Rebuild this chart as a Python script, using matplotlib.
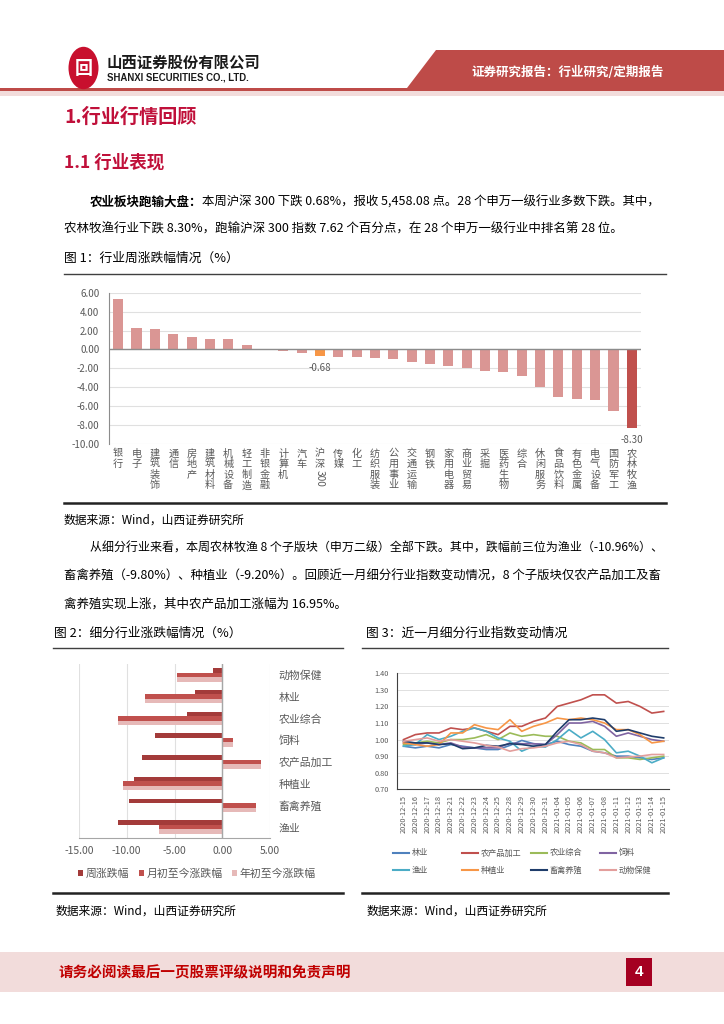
import re
import matplotlib
matplotlib.use('Agg')
import matplotlib.pyplot as plt
import numpy as np
from matplotlib.patches import Polygon, Rectangle, Circle
from matplotlib.lines import Line2D
from matplotlib.ticker import FormatStrFormatter
from matplotlib.transforms import blended_transform_factory

plt.rcParams['font.family'] = ['Noto Sans CJK SC', 'DejaVu Sans']
plt.rcParams['axes.unicode_minus'] = False

# ---- data: figure 1, weekly change of SW level-1 industries (%)
industries = ['银行', '电子', '建筑装饰', '通信', '房地产', '建筑材料', '机械设备', '轻工制造',
              '非银金融', '计算机', '汽车', '沪深300', '传媒', '化工', '纺织服装', '公用事业',
              '交通运输', '钢铁', '家用电器', '商业贸易', '采掘', '医药生物', '综合', '休闲服务',
              '食品饮料', '有色金属', '电气设备', '国防军工', '农林牧渔']
weekly_chg = [5.33, 2.24, 2.17, 1.68, 1.29, 1.12, 1.12, 0.42, 0.02, -0.15, -0.33, -0.68,
              -0.78, -0.85, -0.95, -0.98, -1.30, -1.51, -1.76, -1.93, -2.28, -2.39, -2.78,
              -3.98, -5.05, -5.30, -5.37, -6.53, -8.30]

# ---- data: figure 2, sub-industries (%)
sub_names = ['动物保健', '林业', '农业综合', '饲料', '农产品加工', '种植业', '畜禽养殖', '渔业']
sub_week = [-1.02, -2.87, -3.74, -6.99, -8.39, -9.20, -9.80, -10.96]
sub_month = [-4.79, -8.08, -10.94, 1.15, 4.02, -10.38, 3.53, -6.64]
sub_ytd = [-4.79, -8.08, -10.94, 1.15, 4.02, -10.38, 3.53, -6.64]

# ---- data: figure 3, sub-industry index (normalised)
dates = ['2020-12-15', '2020-12-16', '2020-12-17', '2020-12-18', '2020-12-21', '2020-12-22',
         '2020-12-23', '2020-12-24', '2020-12-25', '2020-12-28', '2020-12-29', '2020-12-30',
         '2020-12-31', '2021-01-04', '2021-01-05', '2021-01-06', '2021-01-07', '2021-01-08',
         '2021-01-11', '2021-01-12', '2021-01-13', '2021-01-14', '2021-01-15']
idx_linye = [0.96, 0.95, 0.96, 0.95, 0.97, 0.96, 0.95, 0.94, 0.94, 0.965, 0.995, 0.975,
             0.97, 0.99, 0.97, 0.96, 0.93, 0.92, 0.90, 0.90, 0.89, 0.88, 0.89]
idx_jiagong = [1.00, 1.03, 1.04, 1.04, 1.07, 1.06, 1.07, 1.05, 1.03, 1.08, 1.08, 1.11,
               1.13, 1.20, 1.22, 1.24, 1.27, 1.27, 1.22, 1.23, 1.20, 1.16, 1.17]
idx_zonghe = [0.97, 0.98, 0.99, 0.98, 1.00, 1.00, 1.01, 1.03, 1.00, 1.04, 1.02, 1.03,
              1.02, 1.02, 0.99, 0.98, 0.94, 0.94, 0.89, 0.89, 0.88, 0.89, 0.90]
idx_siliao = [0.98, 0.97, 0.98, 0.97, 0.98, 0.955, 0.95, 0.95, 0.95, 0.98, 0.975, 0.975,
              0.97, 1.03, 1.10, 1.10, 1.11, 1.08, 1.02, 1.04, 1.02, 1.00, 0.99]
idx_yuye = [0.96, 0.97, 1.03, 1.00, 1.02, 1.05, 1.07, 1.05, 1.01, 0.99, 0.93, 0.96,
            0.955, 1.00, 1.06, 1.01, 1.05, 1.00, 0.92, 0.93, 0.90, 0.86, 0.89]
idx_zhongzhi = [0.98, 0.97, 0.96, 0.97, 1.04, 1.04, 1.09, 1.07, 1.06, 1.12, 1.05, 1.08,
                1.10, 1.13, 1.12, 1.13, 1.12, 1.10, 1.06, 1.06, 1.03, 0.98, 0.99]
idx_xuqin = [0.99, 0.98, 0.98, 0.97, 0.975, 0.945, 0.95, 0.965, 0.96, 0.975, 0.97, 0.96,
             0.97, 1.05, 1.12, 1.12, 1.13, 1.12, 1.05, 1.06, 1.04, 1.02, 1.01]
idx_baojian = [0.99, 1.00, 1.01, 0.99, 1.00, 0.99, 0.98, 0.965, 0.955, 0.93, 0.945, 0.95,
               0.96, 0.98, 0.99, 0.97, 0.93, 0.92, 0.89, 0.895, 0.90, 0.91, 0.91]

series3 = [('林业', idx_linye, '#4F81BD'), ('农产品加工', idx_jiagong, '#C0504D'),
           ('农业综合', idx_zonghe, '#9BBB59'), ('饲料', idx_siliao, '#8064A2'),
           ('渔业', idx_yuye, '#4BACC6'), ('种植业', idx_zhongzhi, '#F79646'),
           ('畜禽养殖', idx_xuqin, '#1F3D6B'), ('动物保健', idx_baojian, '#E39E9C')]

W, H = 724, 1024
RED = '#C0103A'
GRAY = '#595959'


def fx(x):
    return x / W


def fy(y):
    return 1 - y / H


fig = plt.figure(figsize=(W / 100, H / 100), dpi=100)
fig.patch.set_facecolor('white')
renderer = fig.canvas.get_renderer()


def put_line(x0, y, s, size, x1=None, **kw):
    # one line of body text; if x1 is given the font is scaled so the line ends there
    t = fig.text(fx(x0), fy(y), s, fontsize=size, va='center', **kw)
    if x1 is not None:
        w = t.get_window_extent(renderer).width
        t.set_fontsize(size * (x1 - x0) / w)
    return t


# ---- page header
fig.add_artist(Polygon([(fx(436), fy(50)), (1, fy(50)), (1, fy(88)), (fx(407), fy(88))],
                       closed=True, color='#BE4B48', transform=fig.transFigure, lw=0))
fig.add_artist(Rectangle((0, fy(90.5)), 1, 3 / H, color='#BE4B48', transform=fig.transFigure, lw=0))
fig.add_artist(Rectangle((0, fy(96)), 1, 5.5 / H, color='#F2DCDB', transform=fig.transFigure, lw=0))
fig.add_artist(Circle((fx(83.5), fy(68)), 15 / W, color='#C8102E', transform=fig.transFigure,
                      lw=0))
# rough logo glyph
fig.text(fx(83.5), fy(68), '回', color='white', fontsize=13, fontweight='bold',
         ha='center', va='center')
fig.text(fx(107), fy(63), '山西证券股份有限公司', fontsize=11.1, fontweight='bold',
         ha='left', va='center', color='#1a1a1a')
fig.text(fx(107), fy(77.5), 'SHANXI SECURITIES CO., LTD.', fontsize=6.9, fontweight='bold',
         family='Liberation Sans', ha='left', va='center', color='#1a1a1a')
fig.text(fx(471), fy(72), '证券研究报告：行业研究/定期报告', fontsize=9.0, fontweight='bold',
         color='white', ha='left', va='center')

# ---- headings and body text
fig.text(fx(64), fy(117), '1.行业行情回顾', fontsize=13.8, fontweight='bold', color=RED,
         va='center')
fig.text(fx(64), fy(163), '1.1 行业表现', fontsize=12.6, fontweight='bold', color=RED,
         va='center')

bt = fig.text(fx(90), fy(202), '农业板块跑输大盘：', fontsize=9, fontweight='bold', va='center')
bx = bt.get_window_extent(renderer).x1
put_line(bx, 202, '本周沪深 300 下跌 0.68%，报收 5,458.08 点。28 个申万一级行业多数下跌。其中，',
         9, x1=662)
put_line(64, 229, '农林牧渔行业下跌 8.30%，跑输沪深 300 指数 7.62 个百分点，在 28 个申万一级行业中排名第 28 位。',
         9, x1=622)
fig.text(fx(64), fy(258), '图 1：行业周涨跌幅情况（%）', fontsize=9.2, va='center')
fig.add_artist(Line2D([fx(64), fx(666)], [fy(274), fy(274)], color='#404040', lw=1))
fig.add_artist(Line2D([fx(64), fx(666)], [fy(503), fy(503)], color='#222222', lw=1.8))
fig.text(fx(64), fy(520), '数据来源：Wind，山西证券研究所', fontsize=8.5, va='center')

put_line(90, 548, '从细分行业来看，本周农林牧渔 8 个子版块（申万二级）全部下跌。其中，跌幅前三位为渔业（-10.96%）、',
         9, x1=663)
put_line(64, 576, '畜禽养殖（-9.80%）、种植业（-9.20%）。回顾近一月细分行业指数变动情况，8 个子版块仅农产品加工及畜',
         9, x1=663)
put_line(64, 604, '禽养殖实现上涨，其中农产品加工涨幅为 16.95%。', 9)

fig.text(fx(54), fy(633), '图 2：细分行业涨跌幅情况（%）', fontsize=9.2, va='center')
fig.text(fx(366), fy(633), '图 3：近一月细分行业指数变动情况', fontsize=9.2, va='center')
fig.add_artist(Line2D([fx(53), fx(343)], [fy(648), fy(648)], color='#404040', lw=1))
fig.add_artist(Line2D([fx(362), fx(668)], [fy(648), fy(648)], color='#404040', lw=1))
fig.add_artist(Line2D([fx(53), fx(343)], [fy(893), fy(893)], color='#222222', lw=1.8))
fig.add_artist(Line2D([fx(362), fx(668)], [fy(893), fy(893)], color='#222222', lw=1.8))
fig.text(fx(56), fy(911), '数据来源：Wind，山西证券研究所', fontsize=8.5, va='center')
fig.text(fx(367), fy(911), '数据来源：Wind，山西证券研究所', fontsize=8.5, va='center')

# ---- footer
fig.add_artist(Rectangle((0, fy(992)), 1, 40 / H, color='#F2DCDB', transform=fig.transFigure, lw=0))
fig.text(fx(59), fy(972), '请务必阅读最后一页股票评级说明和免责声明', fontsize=10.5,
         fontweight='bold', color='#C00000', va='center')
fig.add_artist(Rectangle((fx(626), fy(986)), 26 / W, 28 / H, color='#A50021',
                         transform=fig.transFigure, lw=0))
fig.text(fx(639), fy(972), '4', fontsize=11, fontweight='bold', color='white',
         ha='center', va='center', family='Liberation Sans')

# ---- figure 1
ax1 = fig.add_axes([fx(109), fy(443.5), (641 - 109) / W, (443.5 - 293) / H])
x1 = np.arange(len(industries))
hs_i = industries.index('沪深300')
colors1 = ['#DA9694'] * len(industries)
colors1[hs_i] = '#F79646'
colors1[-1] = '#C0504D'
ax1.bar(x1, weekly_chg, width=0.55, color=colors1, zorder=3)
ax1.set_xlim(-0.5, len(industries) - 0.5)
ax1.set_ylim(-10, 6)
ax1.set_yticks(np.arange(-10, 7, 2))
ax1.yaxis.set_major_formatter(FormatStrFormatter('%.2f'))
ax1.grid(axis='y', color='#E0E0E0', lw=0.8, zorder=0)
ax1.axhline(0, color='#8C8C8C', lw=1, zorder=4)
for s in ['top', 'right', 'bottom']:
    ax1.spines[s].set_visible(False)
ax1.spines['left'].set_color('#8C8C8C')
ax1.tick_params(axis='y', length=0, labelsize=7, labelcolor=GRAY, pad=7)
ax1.set_xticks([])
ax1.text(hs_i, weekly_chg[hs_i] - 1.3, '%.2f' % weekly_chg[hs_i], ha='center', va='center',
         fontsize=7, color=GRAY)
ax1.text(len(industries) - 1, weekly_chg[-1] - 1.35, '%.2f' % weekly_chg[-1], ha='center',
         va='center', fontsize=7, color=GRAY)

trans1 = blended_transform_factory(ax1.transData, fig.transFigure)
for i, name in enumerate(industries):
    yp = 453.5
    for tok in re.findall(r'\d+|\D', name):
        if tok.isdigit():
            h = 5.8 * len(tok)
            ax1.text(i, fy(yp - 5 + h / 2), tok, rotation=270, ha='center', va='center',
                     fontsize=7.3, color=GRAY, transform=trans1)
            yp += h + 5
        else:
            ax1.text(i, fy(yp), tok, ha='center', va='center', fontsize=7.3, color=GRAY,
                     transform=trans1)
            yp += 10.6

# ---- figure 2
ax2 = fig.add_axes([fx(79), fy(838), (270 - 79) / W, (838 - 664) / H])
y2 = np.arange(len(sub_names))
bh = 0.21
ax2.barh(y2 - bh, sub_week, height=bh, color='#A33B3A', label='周涨跌幅', zorder=3)
ax2.barh(y2, sub_month, height=bh, color='#C0504D', label='月初至今涨跌幅', zorder=3)
ax2.barh(y2 + bh, sub_ytd, height=bh, color='#E6B9B8', label='年初至今涨跌幅', zorder=3)
ax2.set_ylim(len(sub_names) - 0.5, -0.5)
ax2.set_xlim(-15, 5)
ax2.set_xticks(np.arange(-15, 6, 5))
ax2.xaxis.set_major_formatter(FormatStrFormatter('%.2f'))
ax2.grid(axis='x', color='#E0E0E0', lw=0.8, zorder=0)
ax2.axvline(0, color='#A6A6A6', lw=1, zorder=4)
for s in ['top', 'right', 'left']:
    ax2.spines[s].set_visible(False)
ax2.spines['bottom'].set_color('#A6A6A6')
ax2.yaxis.tick_right()
ax2.set_yticks(y2)
ax2.set_yticklabels(sub_names)
ax2.tick_params(axis='y', length=0, labelsize=7.8, labelcolor=GRAY, pad=6)
ax2.tick_params(axis='x', length=0, labelsize=7.5, labelcolor=GRAY, pad=6)
h2, l2 = ax2.get_legend_handles_labels()
fig.legend(h2, l2, loc='center left', bbox_to_anchor=(fx(78), fy(874)), ncol=3, frameon=False,
           fontsize=7.8, handlelength=0.45, handleheight=0.45, handletextpad=0.25,
           columnspacing=0.9, labelcolor=GRAY, borderpad=0, borderaxespad=0)

# ---- figure 3
ax3 = fig.add_axes([fx(397), fy(789.3), (669 - 397) / W, (789.3 - 673.3) / H])
x3 = np.arange(len(dates))
for name, vals, col in series3:
    ax3.plot(x3, vals, color=col, lw=1.2, label=name, zorder=3)
ax3.set_xlim(-0.55, len(dates) - 0.55)
ax3.set_ylim(0.7, 1.4)
ax3.set_yticks(np.arange(0.7, 1.41, 0.1))
ax3.yaxis.set_major_formatter(FormatStrFormatter('%.2f'))
ax3.grid(axis='y', color='#E0E0E0', lw=0.7, zorder=0)
for s in ['top', 'right']:
    ax3.spines[s].set_visible(False)
ax3.spines['left'].set_color('#404040')
ax3.spines['bottom'].set_color('#404040')
ax3.set_xticks(x3)
ax3.set_xticklabels(dates, rotation=90)
ax3.tick_params(axis='x', length=0, labelsize=5.3, labelcolor=GRAY, pad=4)
ax3.tick_params(axis='y', length=0, labelsize=5.3, labelcolor=GRAY, pad=6)

# legend of figure 3, laid out as two rows of four
col_x = [393, 462, 531, 600]
row_y = [853, 870]
for k, (name, vals, col) in enumerate(series3):
    cx = col_x[k % 4]
    ry = row_y[k // 4]
    fig.add_artist(Line2D([fx(cx), fx(cx + 16)], [fy(ry), fy(ry)], color=col, lw=1.5))
    fig.text(fx(cx + 19), fy(ry), name, fontsize=5.9, color=GRAY, va='center')

fig.savefig('out.png', dpi=100)
